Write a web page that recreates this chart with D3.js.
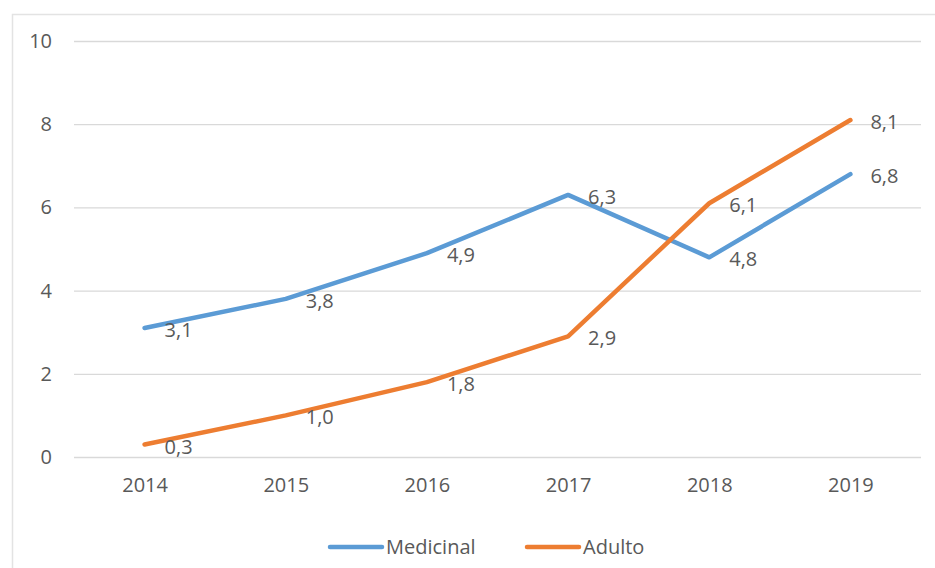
<!DOCTYPE html>
<html>
<head>
<meta charset="utf-8">
<script src="https://cdn.jsdelivr.net/npm/d3@7"></script>
<style>
  body { margin: 0; background: #fff; }
  text { font-family: "Open Sans", "Noto Sans", sans-serif; fill: #595959; }
</style>
</head>
<body>
<svg id="chart" width="935" height="568"></svg>
<script>
'use strict';

const years = ['2014', '2015', '2016', '2017', '2018', '2019'];
const medicinal = [3.1, 3.8, 4.9, 6.3, 4.8, 6.8];
const adulto = [0.3, 1.0, 1.8, 2.9, 6.1, 8.1];
const y_ticks = [0, 2, 4, 6, 8, 10];
const series_names = ['Medicinal', 'Adulto'];
const series_colors = ['#5b9bd5', '#ed7d31'];

const width = 935, height = 568;
const margin = {top: 41, right: 14, bottom: 111, left: 74};
const font_size = 20;

const svg = d3.select('#chart');

// chart frame
svg.append('rect')
    .attr('x', 12.5).attr('y', 14.5)
    .attr('width', width + 10).attr('height', height + 10)
    .attr('fill', 'none')
    .attr('stroke', '#e3e3e3')
    .attr('stroke-width', 1.5);

const x = d3.scalePoint()
    .domain(years)
    .range([margin.left, width - margin.right])
    .padding(0.5);
const y = d3.scaleLinear()
    .domain([0, 10])
    .range([height - margin.bottom, margin.top]);

const yAxis = d3.axisLeft(y)
    .tickValues(y_ticks)
    .tickSizeInner(-(width - margin.right - margin.left))
    .tickSizeOuter(0)
    .tickPadding(22);

const gy = svg.append('g')
    .attr('transform', `translate(${margin.left},0)`)
    .call(yAxis);
gy.select('.domain').remove();
gy.selectAll('line').attr('stroke', '#d9d9d9').attr('stroke-width', 1.3);
gy.selectAll('text').attr('font-size', font_size).attr('fill', '#595959');

const xAxis = d3.axisBottom(x).tickSize(0).tickPadding(21);
const gx = svg.append('g')
    .attr('transform', `translate(0,${y(0)})`)
    .call(xAxis);
gx.select('.domain').remove();
gx.selectAll('text').attr('font-size', font_size).attr('fill', '#595959');

const series = [medicinal, adulto];
const line = d3.line()
    .x((d, i) => x(years[i]))
    .y(d => y(d));

series.forEach((values, k) => {
    svg.append('path')
        .datum(values)
        .attr('fill', 'none')
        .attr('stroke', series_colors[k])
        .attr('stroke-width', 4.5)
        .attr('stroke-linejoin', 'round')
        .attr('stroke-linecap', 'round')
        .attr('d', line);
});

series.forEach((values, k) => {
    svg.append('g').selectAll('text')
        .data(values)
        .join('text')
        .attr('x', (d, i) => x(years[i]) + 20)
        .attr('y', d => y(d) + 2)
        .attr('dy', '0.35em')
        .attr('font-size', font_size)
        .text(d => d.toFixed(1).replace('.', ','));
});

// legend
const legend_x = [330, 527];
const legend = svg.append('g');
series_names.forEach((name, k) => {
    legend.append('line')
        .attr('x1', legend_x[k]).attr('x2', legend_x[k] + 52)
        .attr('y1', 547).attr('y2', 547)
        .attr('stroke', series_colors[k])
        .attr('stroke-width', 4.5)
        .attr('stroke-linecap', 'round');
    legend.append('text')
        .attr('x', legend_x[k] + 56)
        .attr('y', 547)
        .attr('dy', '0.35em')
        .attr('font-size', font_size)
        .text(name);
});
</script>
</body>
</html>
